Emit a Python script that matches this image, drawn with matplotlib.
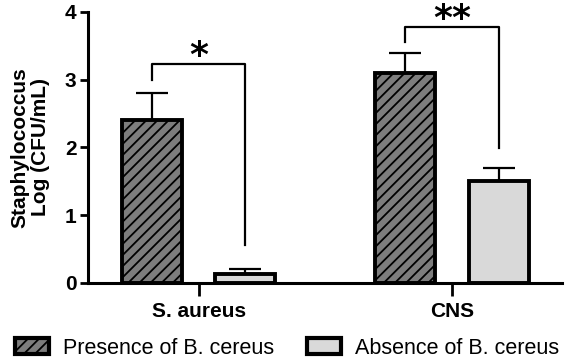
import numpy as np
import matplotlib
matplotlib.use("Agg")
import matplotlib.pyplot as plt
import matplotlib.patches as mpatches

plt.rcParams['font.family'] = ['Liberation Sans', 'DejaVu Sans']
plt.rcParams['hatch.linewidth'] = 1.3

categories = ['S. aureus', 'CNS']
series_names = ['Presence of B. cereus', 'Absence of B. cereus']
presence = [2.4, 3.1]
presence_err = [0.4, 0.3]
absence = [0.13, 1.5]
absence_err = [0.07, 0.2]
stars = ['*', '**']
# bracket: top height, left leg end, right leg end
bracket_top = [3.23, 3.78]
bracket_left = [3.0, 3.56]
bracket_right = [0.56, 1.99]

fig = plt.figure(figsize=(5.66, 3.6), dpi=100)
ax = fig.add_axes([0.155, 0.214, 0.838, 0.753])

x = np.arange(len(categories))
w = 0.237
off = 0.184

ax.bar(x - off, presence, w, color='#7d7d7d', edgecolor='black', linewidth=2.8,
       hatch='///', zorder=2)
ax.bar(x + off, absence, w, color='#d9d9d9', edgecolor='black', linewidth=2.8,
       zorder=2)
ax.errorbar(x - off, presence, yerr=[np.zeros(2), presence_err], fmt='none',
            ecolor='black', elinewidth=1.6, capsize=11.5, capthick=1.6, zorder=1)
ax.errorbar(x + off, absence, yerr=[np.zeros(2), absence_err], fmt='none',
            ecolor='black', elinewidth=1.6, capsize=11.5, capthick=1.6, zorder=1)

for i in range(len(categories)):
    xl = x[i] - off
    xr = x[i] + off
    ax.plot([xl, xl, xr, xr], [bracket_left[i], bracket_top[i], bracket_top[i], bracket_right[i]],
            color='black', lw=1.6, clip_on=False)
    ax.text(x[i], bracket_top[i] - 0.03, stars[i], ha='center', va='baseline',
            fontsize=26, fontweight='bold', family='DejaVu Sans', clip_on=False)

ax.set_xlim(-0.439, 1.435)
ax.set_ylim(0, 4)
ax.set_yticks([0, 1, 2, 3, 4])
ax.set_xticks(x)
ax.set_xticklabels(categories, fontsize=15, fontweight='bold')
ax.tick_params(axis='y', labelsize=15, width=2.0, length=6, pad=2)
ax.tick_params(axis='x', width=2.0, length=9, pad=5)
for lab in ax.get_yticklabels():
    lab.set_fontweight('bold')
ax.spines['top'].set_visible(False)
ax.spines['right'].set_visible(False)
ax.spines['left'].set_linewidth(2.2)
ax.spines['bottom'].set_linewidth(2.2)
ax.set_ylabel('Staphylococcus\nLog (CFU/mL)', fontsize=15, fontweight='bold',
              linespacing=1.1, labelpad=11)

h1 = mpatches.Patch(facecolor='#7d7d7d', edgecolor='black', hatch='///', linewidth=3,
                    label=series_names[0])
h2 = mpatches.Patch(facecolor='#d9d9d9', edgecolor='black', linewidth=3,
                    label=series_names[1])
fig.legend(handles=[h1, h2], loc='center left', bbox_to_anchor=(15 / 566, 1 - 348 / 360),
           ncol=2, frameon=False, fontsize=15.5, handlelength=1.6, handleheight=0.8,
           columnspacing=1.5, handletextpad=0.65, borderpad=0, borderaxespad=0)

plt.savefig('out.png', dpi=100)
